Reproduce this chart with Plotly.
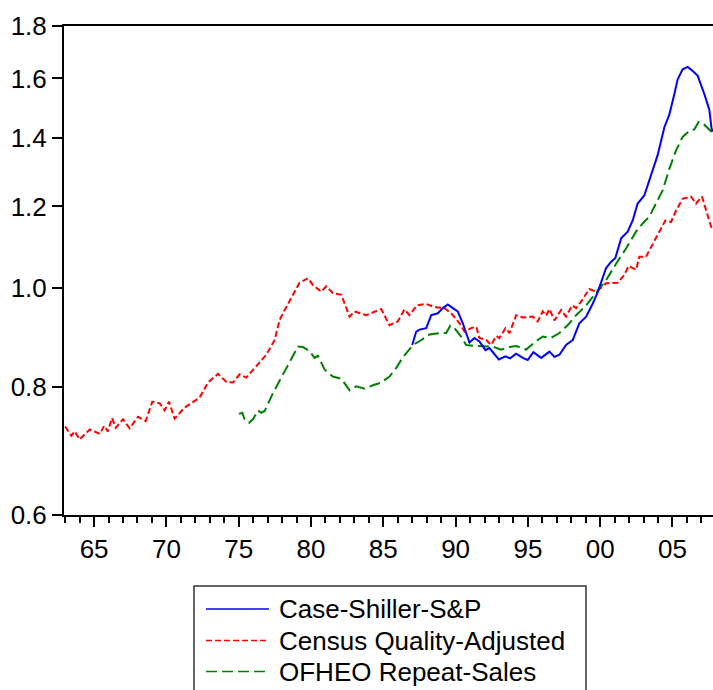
import math
import plotly.graph_objects as go

# ---------------- data ----------------
census_year = [1963.0, 1963.43, 1963.66, 1964.0, 1964.7, 1965.4, 1965.7, 1965.95, 1966.24, 1966.5,
               1967.0, 1967.46, 1968.04, 1968.57, 1969.03, 1969.54, 1969.88, 1970.18, 1970.57, 1971.27,
               1972.3, 1972.88, 1973.57, 1974.15, 1974.6, 1975.07, 1975.53, 1976.22, 1976.91, 1977.49,
               1977.83, 1978.18, 1978.75, 1979.21, 1979.79, 1980.13, 1980.71, 1981.06, 1981.51, 1982.1,
               1982.67, 1983.01, 1983.82, 1984.51, 1984.86, 1985.43, 1986.0, 1986.47, 1986.81, 1987.33,
               1987.97, 1988.54, 1989.23, 1989.7, 1990.27, 1990.62, 1991.08, 1991.43, 1991.65, 1992.12,
               1992.46, 1992.81, 1993.03, 1993.45, 1993.73, 1994.19, 1994.65, 1995.34, 1995.68, 1996.03,
               1996.26, 1996.49, 1996.84, 1997.3, 1997.64, 1998.06, 1998.34, 1998.68, 1999.25, 1999.72,
               2000.06, 2000.41, 2001.21, 2001.67, 2001.97, 2002.48, 2002.71, 2003.17, 2003.75, 2004.09,
               2004.51, 2004.9, 2005.25, 2005.7, 2006.28, 2006.63, 2007.04, 2007.32, 2007.66, 2007.8]
census_value = [0.732, 0.717, 0.724, 0.711, 0.727, 0.720, 0.733, 0.724, 0.746, 0.730,
                0.744, 0.729, 0.748, 0.741, 0.774, 0.771, 0.759, 0.774, 0.745, 0.764,
                0.781, 0.808, 0.824, 0.809, 0.808, 0.823, 0.817, 0.838, 0.860, 0.889,
                0.930, 0.951, 0.984, 1.011, 1.021, 1.006, 0.991, 1.003, 0.988, 0.984,
                0.937, 0.948, 0.940, 0.948, 0.953, 0.919, 0.927, 0.952, 0.940, 0.961,
                0.964, 0.957, 0.955, 0.944, 0.923, 0.906, 0.913, 0.916, 0.893, 0.889,
                0.879, 0.897, 0.893, 0.913, 0.903, 0.940, 0.935, 0.937, 0.927, 0.948,
                0.939, 0.953, 0.929, 0.951, 0.937, 0.961, 0.955, 0.969, 0.997, 0.991,
                0.999, 1.010, 1.011, 1.029, 1.050, 1.041, 1.072, 1.072, 1.113, 1.134,
                1.163, 1.159, 1.189, 1.221, 1.227, 1.208, 1.227, 1.189, 1.148, 1.138]

ofheo_year = [1975.02, 1975.25, 1975.41, 1975.71, 1975.99, 1976.33, 1976.57, 1976.8, 1977.37, 1978.06,
              1978.64, 1979.1, 1979.44, 1979.9, 1980.25, 1980.48, 1980.94, 1981.51, 1982.1, 1982.44,
              1982.67, 1983.13, 1983.71, 1984.28, 1984.86, 1985.43, 1985.9, 1986.35, 1987.05, 1987.58,
              1988.2, 1988.89, 1989.35, 1989.63, 1989.92, 1990.38, 1990.73, 1991.42, 1992.11, 1992.57,
              1993.15, 1993.72, 1994.19, 1994.88, 1995.45, 1996.03, 1996.6, 1997.18, 1997.75, 1998.34,
              1999.03, 1999.5, 1999.95, 2000.41, 2001.1, 2001.79, 2002.48, 2002.94, 2003.4, 2003.87,
              2004.32, 2004.78, 2005.25, 2005.7, 2006.17, 2006.51, 2006.81, 2007.2, 2007.66, 2007.8]
ofheo_value = [0.753, 0.755, 0.744, 0.738, 0.744, 0.759, 0.755, 0.758, 0.789, 0.823,
               0.851, 0.876, 0.875, 0.867, 0.854, 0.858, 0.832, 0.819, 0.815, 0.801,
               0.794, 0.801, 0.797, 0.803, 0.808, 0.819, 0.835, 0.855, 0.879, 0.888,
               0.900, 0.903, 0.903, 0.918, 0.913, 0.896, 0.879, 0.877, 0.877, 0.876,
               0.870, 0.875, 0.877, 0.870, 0.884, 0.896, 0.893, 0.903, 0.919, 0.940,
               0.961, 0.980, 0.999, 1.017, 1.055, 1.092, 1.134, 1.155, 1.173, 1.208,
               1.244, 1.306, 1.361, 1.403, 1.422, 1.427, 1.451, 1.442, 1.420, 1.415]

cs_year = [1987.0, 1987.28, 1987.51, 1987.97, 1988.32, 1988.77, 1989.12, 1989.46, 1989.81, 1990.15,
           1990.5, 1990.96, 1991.3, 1991.65, 1992.07, 1992.34, 1992.99, 1993.45, 1993.77, 1994.19,
           1994.65, 1994.99, 1995.38, 1995.92, 1996.49, 1996.84, 1997.18, 1997.64, 1998.1, 1998.56,
           1999.03, 1999.49, 1999.83, 2000.06, 2000.41, 2000.76, 2001.05, 2001.45, 2001.9, 2002.25,
           2002.59, 2003.05, 2003.52, 2003.97, 2004.44, 2004.78, 2005.13, 2005.36, 2005.7, 2006.05,
           2006.4, 2006.74, 2007.2, 2007.55, 2007.7, 2007.8]
cs_value = [0.879, 0.906, 0.910, 0.913, 0.940, 0.944, 0.955, 0.963, 0.955, 0.948,
            0.923, 0.884, 0.893, 0.886, 0.869, 0.873, 0.851, 0.857, 0.853, 0.862,
            0.854, 0.850, 0.865, 0.854, 0.866, 0.856, 0.860, 0.879, 0.889, 0.923,
            0.937, 0.965, 0.990, 1.010, 1.045, 1.060, 1.069, 1.117, 1.134, 1.163,
            1.208, 1.230, 1.286, 1.346, 1.434, 1.475, 1.545, 1.597, 1.633, 1.642,
            1.627, 1.610, 1.545, 1.491, 1.430, 1.420]

x_tick_vals = [1965, 1970, 1975, 1980, 1985, 1990, 1995, 2000, 2005]
x_tick_text = ["65", "70", "75", "80", "85", "90", "95", "00", "05"]
y_tick_vals = [0.6, 0.8, 1.0, 1.2, 1.4, 1.6, 1.8]
y_tick_text = ["0.6", "0.8", "1.0", "1.2", "1.4", "1.6", "1.8"]

series_names = ["Case-Shiller-S&P", "Census Quality-Adjusted", "OFHEO Repeat-Sales"]
series_colors = ["#0000FF", "#FF0000", "#008000"]
series_dash = ["solid", "6px,3px", "11px,5px"]

# ---------------- layout geometry ----------------
W, H = 713, 690
L, R, T, B = 64, 0, 26, 175
PW, PH = W - L - R, H - T - B
FONT = "Arial, 'Liberation Sans', sans-serif"
FS = 26


def px_x(px):
    return (px - L) / PW


def px_y(py):
    return (H - B - py) / PH


fig = go.Figure()
for name, xs, ys, col, dash in [
    (series_names[1], census_year, census_value, series_colors[1], series_dash[1]),
    (series_names[2], ofheo_year, ofheo_value, series_colors[2], series_dash[2]),
    (series_names[0], cs_year, cs_value, series_colors[0], series_dash[0]),
]:
    fig.add_trace(go.Scatter(x=xs, y=ys, mode="lines", name=name,
                             line=dict(color=col, width=2, dash=dash),
                             showlegend=False))

# custom legend box
shapes = [dict(type="rect", xref="paper", yref="paper",
               x0=px_x(194), x1=px_x(586), y0=px_y(720), y1=px_y(586),
               line=dict(color="#333333", width=1.5), fillcolor="white")]
annotations = []
rows_y = [609, 640.5, 671.5]
for i in range(3):
    shapes.append(dict(type="line", xref="paper", yref="paper",
                       x0=px_x(206), x1=px_x(269), y0=px_y(rows_y[i]), y1=px_y(rows_y[i]),
                       line=dict(color=series_colors[i], width=1.5, dash=series_dash[i])))
    annotations.append(dict(xref="paper", yref="paper", x=px_x(277), y=px_y(rows_y[i]),
                            xanchor="left", yanchor="middle", showarrow=False,
                            text=series_names[i], font=dict(size=FS, color="black", family=FONT)))

fig.update_layout(
    width=W, height=H, autosize=False,
    margin=dict(l=L, r=R, t=T, b=B, pad=0),
    paper_bgcolor="white", plot_bgcolor="white",
    font=dict(family=FONT, size=FS, color="black"),
    shapes=shapes, annotations=annotations,
    showlegend=False,
)
fig.update_xaxes(
    range=[1962.92, 1962.92 + PW / 14.46],
    tickmode="array", tickvals=x_tick_vals, ticktext=x_tick_text,
    ticks="outside", ticklen=10, tickwidth=1.5, tickcolor="black",
    showline=True, linecolor="black", linewidth=2, mirror=True,
    showgrid=False, zeroline=False,
    minor=dict(ticks="outside", ticklen=6, tickwidth=1.5, tickcolor="black",
               tick0=1963, dtick=1, showgrid=False),
    tickfont=dict(size=FS, family=FONT, color="black"),
)
fig.update_yaxes(
    type="log", range=[math.log10(0.6), math.log10(1.8)],
    tickmode="array", tickvals=y_tick_vals, ticktext=y_tick_text,
    ticks="outside", ticklen=10, tickwidth=1.5, tickcolor="black",
    showline=True, linecolor="black", linewidth=2, mirror=False,
    showgrid=False, zeroline=False,
    tickfont=dict(size=FS, family=FONT, color="black"),
)

fig.write_html("out.html")
